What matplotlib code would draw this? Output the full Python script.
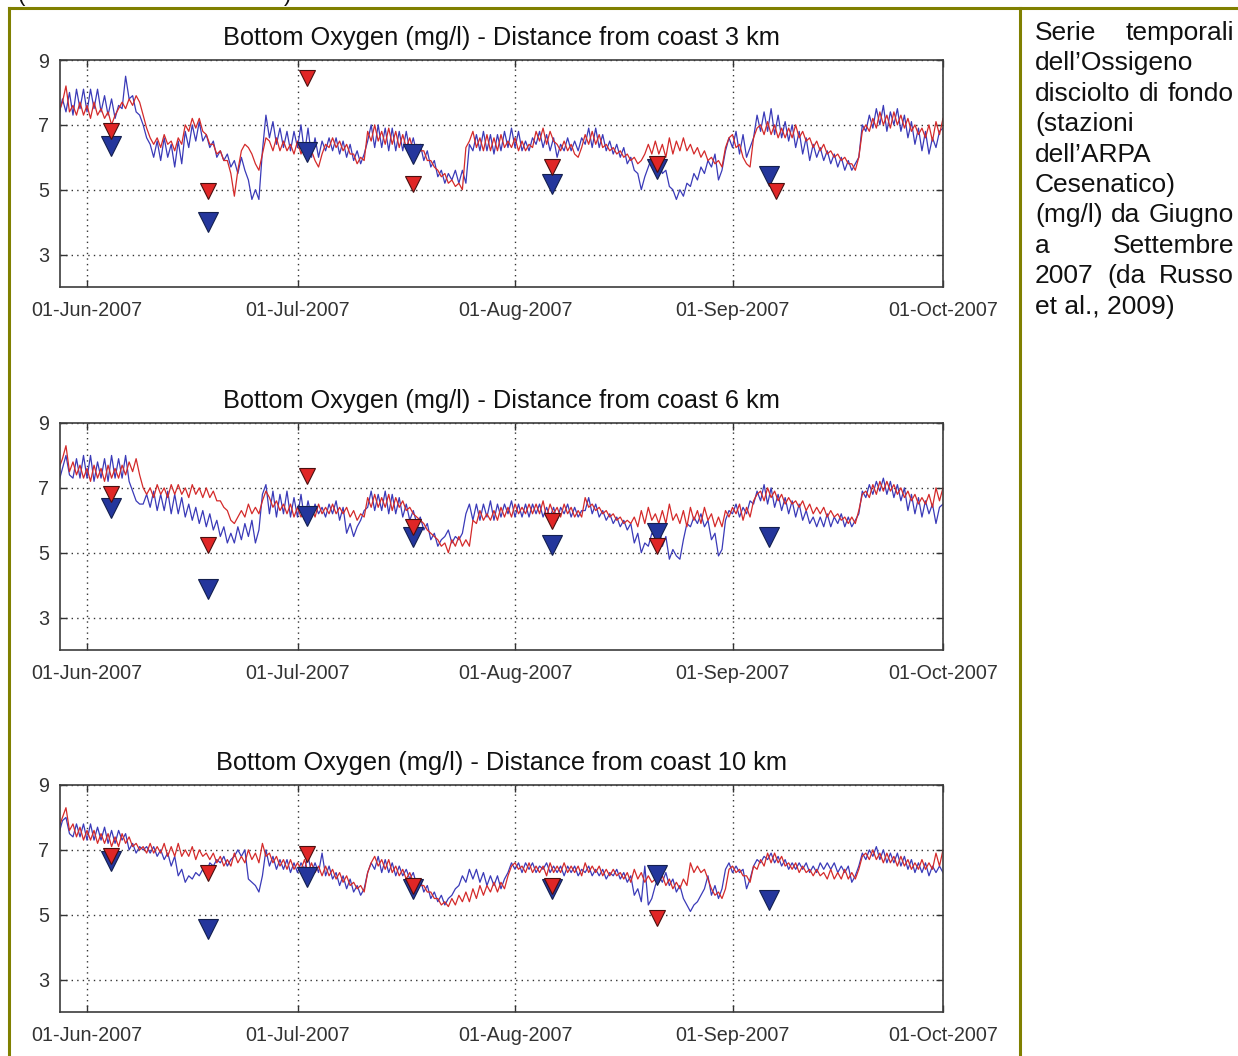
import pandas as pd
import matplotlib
matplotlib.use("Agg")
import matplotlib.pyplot as plt

W, H = 1238, 1056
OLIVE = "#808000"

plt.rcParams["font.family"] = ["Liberation Sans", "DejaVu Sans"]

# ---- data (12-hourly, starting 28 May 2007 00:00) ----
series_start = "2007-05-28"

ox3_red = [
    7.4, 7.7, 8.2, 7.4, 7.6, 7.3, 7.7, 7.3, 7.6, 7.2, 7.7, 7.3, 7.5, 7.2, 7.4, 7.0, 7.3, 7.5, 7.7, 7.5,
    7.8, 7.6, 7.9, 7.7, 7.3, 6.9, 6.6, 6.4, 6.6, 6.3, 6.7, 6.4, 6.5, 6.2, 6.6, 6.4, 7.0, 6.8, 7.2, 6.9,
    7.2, 6.8, 6.7, 6.4, 6.4, 6.1, 6.2, 5.9, 5.9, 5.5, 4.8, 5.6, 6.2, 6.4, 6.3, 6.1, 5.8, 5.6, 6.1, 6.6,
    6.5, 6.2, 6.6, 6.2, 6.5, 6.2, 6.4, 6.1, 6.5, 6.1, 6.4, 6.0, 6.2, 5.9, 5.7, 6.1, 6.4, 6.3, 6.6, 6.3,
    6.5, 6.2, 6.4, 6.1, 6.1, 5.8, 6.0, 5.9, 6.8, 6.5, 7.0, 6.5, 6.8, 6.4, 6.9, 6.4, 6.8, 6.3, 6.7, 6.3,
    6.6, 6.2, 6.4, 6.2, 6.2, 5.9, 5.9, 5.7, 5.6, 5.4, 5.5, 5.2, 5.3, 5.1, 5.2, 5.0, 6.3, 6.5, 6.8, 6.3,
    6.6, 6.2, 6.7, 6.2, 6.6, 6.2, 6.7, 6.3, 6.5, 6.3, 6.6, 6.2, 6.5, 6.2, 6.4, 6.3, 6.8, 6.5, 6.9, 6.4,
    6.8, 6.5, 6.4, 6.2, 6.5, 6.2, 6.4, 6.1, 6.0, 6.3, 6.7, 6.4, 6.8, 6.4, 6.7, 6.3, 6.4, 6.2, 6.3, 6.1,
    6.2, 6.0, 6.1, 5.9, 6.0, 5.8, 5.9, 6.1, 6.4, 6.1, 6.5, 6.1, 6.4, 6.0, 6.6, 6.1, 6.5, 6.2, 6.6, 6.2,
    6.4, 6.1, 6.3, 6.0, 6.2, 5.9, 6.0, 5.8, 5.9, 5.7, 6.3, 6.6, 6.7, 6.3, 6.4, 6.0, 5.8, 5.7, 6.6, 6.9,
    7.0, 6.7, 7.1, 6.7, 7.0, 6.6, 6.9, 6.6, 6.9, 6.6, 7.0, 6.6, 6.8, 6.5, 6.6, 6.3, 6.5, 6.2, 6.4, 6.1,
    6.2, 6.0, 6.1, 5.9, 6.0, 5.8, 5.8, 5.6, 6.0, 6.8, 7.0, 6.8, 7.2, 6.9, 7.4, 7.0, 7.3, 6.9, 7.4, 7.0,
    7.3, 6.9, 7.2, 6.8, 7.0, 6.7, 6.9, 6.6, 7.0, 6.5, 7.1, 6.7, 7.2,
]
ox3_blue = [
    7.3, 7.8, 7.4, 8.0, 7.3, 8.1, 7.5, 8.1, 7.4, 8.1, 7.5, 8.1, 7.4, 7.9, 7.3, 7.8, 7.2, 7.6, 7.5, 8.5,
    7.8, 7.9, 7.4, 7.3, 7.0, 6.6, 6.4, 6.0, 6.5, 5.9, 6.6, 6.0, 6.4, 5.7, 6.5, 5.8, 6.8, 6.3, 7.0, 6.5,
    7.1, 6.5, 6.7, 6.3, 6.5, 6.0, 6.2, 5.9, 6.1, 5.7, 5.9, 5.5, 6.0, 5.6, 5.3, 4.7, 5.0, 4.7, 6.2, 7.3,
    6.6, 7.1, 6.4, 6.9, 6.3, 6.8, 6.2, 6.8, 6.3, 7.0, 6.1, 6.9, 6.0, 6.6, 6.0, 6.5, 6.2, 6.6, 6.2, 6.6,
    6.1, 6.5, 6.0, 6.4, 5.9, 6.2, 5.8, 6.1, 6.5, 7.0, 6.3, 7.0, 6.3, 6.9, 6.2, 6.9, 6.2, 6.8, 6.2, 6.8,
    6.2, 6.6, 6.1, 6.4, 5.9, 6.2, 5.7, 5.9, 5.4, 5.6, 5.2, 5.5, 5.3, 5.6, 5.2, 5.6, 5.2, 6.4, 6.2, 6.7,
    6.2, 6.8, 6.2, 6.7, 6.1, 6.7, 6.2, 6.8, 6.3, 6.9, 6.3, 6.8, 6.2, 6.5, 6.2, 6.6, 6.4, 6.8, 6.3, 6.7,
    6.2, 6.6, 6.0, 6.4, 6.2, 6.6, 6.2, 6.5, 6.2, 6.6, 6.4, 6.9, 6.3, 6.9, 6.3, 6.7, 6.2, 6.5, 6.1, 6.4,
    6.0, 6.3, 5.8, 6.0, 5.6, 5.5, 5.0, 5.4, 5.7, 6.0, 5.6, 5.9, 5.5, 5.6, 5.1, 5.0, 4.7, 5.0, 4.8, 5.2,
    5.1, 5.5, 5.3, 5.7, 5.5, 5.9, 5.7, 6.1, 5.3, 5.6, 6.2, 6.6, 6.3, 6.8, 6.1, 6.7, 6.0, 6.3, 6.6, 7.3,
    6.8, 7.4, 6.8, 7.5, 6.7, 7.3, 6.6, 7.1, 6.5, 7.0, 6.3, 6.8, 6.1, 6.6, 5.9, 6.4, 6.0, 6.3, 5.9, 6.2,
    5.8, 6.1, 5.7, 6.0, 5.6, 5.9, 5.6, 5.8, 6.0, 7.0, 6.8, 7.3, 6.9, 7.5, 7.0, 7.6, 6.8, 7.4, 7.0, 7.5,
    6.8, 7.3, 6.6, 7.1, 6.4, 6.9, 6.2, 6.8, 6.1, 6.6, 6.3, 6.8, 6.9,
]
ox6_red = [
    7.6, 7.9, 8.3, 7.5, 7.8, 7.4, 7.7, 7.3, 7.6, 7.2, 7.7, 7.3, 7.6, 7.2, 7.7, 7.3, 7.6, 7.3, 7.7, 7.4,
    7.8, 7.5, 7.9, 7.4, 7.0, 6.8, 7.0, 6.7, 7.1, 6.8, 7.0, 6.7, 7.1, 6.8, 7.1, 6.8, 7.0, 6.7, 7.1, 6.8,
    7.0, 6.7, 7.0, 6.7, 6.9, 6.6, 6.6, 6.4, 6.3, 6.0, 5.9, 6.1, 6.3, 6.1, 6.5, 6.2, 6.4, 6.2, 6.6, 6.9,
    6.7, 6.4, 6.6, 6.3, 6.5, 6.2, 6.5, 6.1, 6.4, 6.1, 6.3, 6.1, 6.4, 6.1, 6.5, 6.2, 6.4, 6.2, 6.5, 6.2,
    6.4, 6.2, 6.4, 6.1, 6.3, 6.0, 6.2, 6.1, 6.7, 6.4, 6.8, 6.4, 6.7, 6.4, 6.8, 6.3, 6.7, 6.4, 6.6, 6.3,
    6.4, 6.2, 6.1, 6.0, 5.9, 5.7, 5.6, 5.5, 5.4, 5.2, 5.3, 5.0, 5.4, 5.2, 5.5, 5.2, 5.4, 5.2, 6.0, 5.9,
    6.3, 6.0, 6.2, 6.0, 6.3, 6.0, 6.4, 6.1, 6.4, 6.1, 6.5, 6.2, 6.4, 6.2, 6.5, 6.2, 6.5, 6.2, 6.6, 6.1,
    6.5, 6.2, 6.4, 6.1, 6.5, 6.2, 6.4, 6.1, 6.3, 6.1, 6.7, 6.4, 6.5, 6.3, 6.4, 6.2, 6.3, 6.1, 6.2, 6.0,
    6.1, 5.9, 6.0, 5.9, 6.1, 5.8, 6.3, 5.9, 6.4, 6.0, 6.2, 5.9, 6.3, 5.9, 6.5, 6.0, 6.2, 5.9, 6.3, 5.8,
    6.4, 6.0, 6.3, 5.9, 6.4, 6.0, 6.2, 5.8, 6.1, 5.8, 6.3, 6.1, 6.4, 6.2, 6.5, 6.0, 6.4, 6.1, 6.6, 6.8,
    6.9, 6.6, 7.0, 6.7, 6.9, 6.6, 6.8, 6.5, 6.7, 6.5, 6.6, 6.4, 6.6, 6.3, 6.5, 6.2, 6.4, 6.2, 6.4, 6.1,
    6.3, 6.1, 6.2, 6.0, 6.1, 5.9, 6.1, 5.9, 6.3, 6.8, 6.9, 6.7, 7.1, 6.8, 7.2, 6.9, 7.2, 6.9, 7.1, 6.8,
    7.0, 6.7, 6.9, 6.6, 6.8, 6.5, 6.7, 6.5, 6.8, 6.4, 7.0, 6.6, 7.0,
]
ox6_blue = [
    7.2, 7.6, 8.0, 7.4, 7.3, 7.9, 7.3, 8.0, 7.3, 8.0, 7.2, 7.8, 7.3, 7.9, 7.2, 8.0, 7.3, 7.9, 7.3, 8.0,
    7.2, 6.9, 6.6, 6.5, 6.5, 6.8, 6.4, 6.9, 6.3, 6.8, 6.3, 6.9, 6.2, 6.8, 6.2, 6.7, 6.1, 6.5, 6.0, 6.4,
    5.9, 6.3, 5.8, 6.2, 5.7, 6.0, 5.5, 5.8, 5.3, 5.6, 5.3, 5.8, 5.4, 5.9, 5.5, 6.0, 5.3, 5.7, 6.8, 7.1,
    6.2, 6.9, 6.1, 6.8, 6.2, 6.9, 6.1, 6.7, 6.1, 6.8, 6.0, 6.6, 6.1, 6.5, 6.2, 6.4, 6.1, 6.5, 6.2, 6.6,
    6.0, 6.4, 5.6, 5.9, 5.5, 5.8, 6.0, 6.3, 6.4, 6.9, 6.3, 6.8, 6.3, 6.9, 6.2, 6.8, 6.2, 6.7, 6.1, 6.5,
    6.0, 6.3, 5.9, 6.1, 5.7, 5.9, 5.4, 5.6, 5.2, 5.4, 5.5, 5.7, 5.3, 5.5, 5.4, 5.6, 6.2, 6.5, 6.0, 6.5,
    6.0, 6.5, 6.1, 6.6, 6.0, 6.5, 6.1, 6.5, 6.2, 6.6, 6.1, 6.5, 6.1, 6.5, 6.1, 6.5, 6.2, 6.5, 6.1, 6.4,
    6.1, 6.4, 6.0, 6.4, 6.2, 6.5, 6.1, 6.4, 6.1, 6.3, 6.3, 6.7, 6.2, 6.5, 6.1, 6.3, 6.0, 6.2, 5.9, 6.1,
    5.8, 6.0, 5.7, 5.9, 5.3, 5.6, 5.0, 5.3, 5.2, 5.6, 5.5, 5.9, 5.2, 5.5, 4.8, 5.1, 4.9, 4.8, 5.4, 5.9,
    5.8, 6.1, 5.9, 6.2, 5.8, 6.0, 5.4, 5.6, 4.9, 5.1, 6.0, 6.3, 6.2, 6.5, 6.1, 6.4, 6.2, 6.6, 6.5, 6.9,
    6.6, 7.1, 6.5, 7.0, 6.4, 6.8, 6.3, 6.7, 6.2, 6.6, 6.1, 6.5, 6.0, 6.3, 5.9, 6.1, 5.8, 6.1, 5.8, 6.2,
    5.8, 6.1, 5.9, 6.2, 5.8, 6.1, 5.8, 6.0, 6.2, 6.9, 6.7, 7.1, 6.8, 7.2, 6.9, 7.3, 6.8, 7.2, 6.7, 7.1,
    6.6, 7.0, 6.3, 6.8, 6.2, 6.7, 6.1, 6.6, 6.2, 6.5, 5.9, 6.4, 6.5,
]
ox10_red = [
    7.7, 8.0, 8.3, 7.6, 7.8, 7.4, 7.7, 7.3, 7.6, 7.3, 7.6, 7.2, 7.5, 7.2, 7.5, 7.1, 7.4, 7.1, 7.5, 7.2,
    7.4, 7.1, 7.2, 7.0, 7.1, 6.9, 7.2, 6.9, 7.1, 6.9, 7.2, 6.8, 7.1, 6.8, 7.2, 6.8, 7.0, 6.8, 7.1, 6.7,
    7.0, 6.8, 6.9, 6.7, 6.9, 6.6, 6.8, 6.5, 6.7, 6.5, 6.9, 6.6, 6.8, 6.6, 7.0, 6.7, 6.9, 6.6, 7.2, 6.8,
    6.9, 6.6, 6.8, 6.5, 6.7, 6.4, 6.7, 6.4, 6.6, 6.4, 6.7, 6.3, 6.6, 6.3, 6.5, 6.2, 6.5, 6.2, 6.4, 6.1,
    6.3, 6.0, 6.2, 5.9, 6.0, 5.8, 5.9, 5.7, 6.3, 6.6, 6.8, 6.5, 6.7, 6.4, 6.7, 6.3, 6.5, 6.2, 6.4, 6.1,
    6.3, 6.0, 6.1, 5.9, 5.9, 5.7, 5.7, 5.5, 5.5, 5.3, 5.4, 5.25, 5.5, 5.3, 5.6, 5.4, 5.7, 5.4, 5.8, 5.5,
    5.9, 5.6, 5.9, 5.7, 6.0, 5.7, 6.0, 5.8, 6.2, 6.5, 6.6, 6.4, 6.5, 6.3, 6.6, 6.3, 6.5, 6.3, 6.5, 6.2,
    6.6, 6.3, 6.5, 6.3, 6.6, 6.3, 6.5, 6.3, 6.5, 6.2, 6.6, 6.3, 6.5, 6.3, 6.5, 6.2, 6.4, 6.2, 6.4, 6.2,
    6.3, 6.1, 6.3, 6.0, 6.4, 6.1, 6.3, 6.0, 6.2, 6.0, 6.1, 6.0, 6.2, 5.9, 6.1, 5.8, 6.0, 5.8, 6.1, 5.9,
    6.6, 6.3, 6.5, 6.3, 6.4, 6.1, 5.8, 5.6, 5.7, 5.5, 5.8, 6.4, 6.5, 6.3, 6.4, 6.2, 6.2, 6.0, 6.5, 6.4,
    6.7, 6.5, 6.9, 6.6, 6.9, 6.6, 6.8, 6.5, 6.6, 6.4, 6.6, 6.3, 6.5, 6.3, 6.4, 6.2, 6.4, 6.2, 6.3, 6.1,
    6.4, 6.1, 6.3, 6.1, 6.4, 6.1, 6.3, 6.1, 6.4, 6.8, 6.9, 6.7, 7.0, 6.7, 6.9, 6.6, 6.9, 6.6, 6.8, 6.5,
    6.8, 6.5, 6.7, 6.4, 6.6, 6.4, 6.7, 6.4, 6.6, 6.4, 6.9, 6.5, 7.0,
]
ox10_blue = [
    7.5, 7.9, 8.0, 7.5, 7.4, 7.8, 7.4, 7.8, 7.3, 7.8, 7.3, 7.7, 7.3, 7.7, 7.2, 7.6, 7.2, 7.6, 7.3, 7.5,
    7.0, 7.2, 6.9, 7.1, 7.0, 7.1, 6.9, 7.1, 6.8, 7.0, 6.7, 6.9, 6.5, 6.8, 6.2, 6.4, 6.0, 6.2, 6.1, 6.3,
    6.2, 6.4, 6.3, 6.6, 6.5, 6.7, 6.6, 6.8, 6.5, 6.7, 6.8, 7.0, 6.8, 7.0, 6.1, 6.0, 5.9, 5.7, 6.2, 7.0,
    6.5, 6.8, 6.4, 6.7, 6.4, 6.7, 6.3, 6.6, 6.3, 6.6, 6.4, 6.8, 6.3, 6.6, 6.3, 6.9, 6.2, 6.5, 6.1, 6.3,
    5.9, 6.2, 5.8, 6.1, 5.7, 5.9, 5.6, 5.8, 6.3, 6.6, 6.4, 6.8, 6.3, 6.7, 6.3, 6.6, 6.2, 6.5, 6.2, 6.4,
    6.1, 6.3, 5.9, 6.1, 5.7, 5.9, 5.5, 5.7, 5.4, 5.6, 5.3, 5.5, 5.6, 5.8, 5.9, 6.2, 6.0, 6.4, 6.1, 6.4,
    6.0, 6.3, 5.9, 6.2, 5.9, 6.2, 5.8, 6.1, 6.3, 6.6, 6.4, 6.6, 6.3, 6.6, 6.4, 6.6, 6.3, 6.5, 6.4, 6.6,
    6.3, 6.5, 6.3, 6.5, 6.2, 6.5, 6.3, 6.5, 6.2, 6.4, 6.3, 6.5, 6.2, 6.4, 6.2, 6.4, 6.1, 6.3, 6.2, 6.4,
    6.1, 6.3, 6.0, 6.2, 5.6, 5.8, 5.4, 6.5, 5.3, 5.5, 5.9, 6.2, 6.0, 6.3, 5.9, 6.1, 5.7, 5.9, 5.5, 5.3,
    5.1, 5.3, 5.4, 5.6, 5.8, 6.2, 5.6, 5.9, 5.5, 5.8, 6.4, 6.6, 6.3, 6.5, 6.3, 6.4, 5.8, 6.1, 6.5, 6.7,
    6.6, 6.8, 6.7, 6.9, 6.6, 6.8, 6.5, 6.7, 6.4, 6.6, 6.4, 6.6, 6.4, 6.6, 6.3, 6.5, 6.3, 6.6, 6.4, 6.6,
    6.4, 6.6, 6.3, 6.5, 6.3, 6.5, 6.0, 6.2, 6.5, 6.9, 6.7, 7.0, 6.8, 7.1, 6.7, 7.0, 6.6, 6.9, 6.6, 6.9,
    6.5, 6.8, 6.4, 6.7, 6.3, 6.6, 6.3, 6.6, 6.2, 6.5, 6.3, 6.5, 6.3,
]

# ARPA station measurements (triangles)
blue_dates = ["2007-06-04 10:00", "2007-06-18 07:00", "2007-07-02 07:00", "2007-07-17 10:00",
              "2007-08-06 07:00", "2007-08-21 07:00", "2007-09-06 05:00"]
red_dates_3km = blue_dates[:6] + ["2007-09-07 05:00"]
red_dates = blue_dates[:6]

st3_red = [6.82, 4.97, 8.46, 5.18, 5.69, 5.78, 4.97]
st3_blue = [6.35, 4.0, 6.15, 6.1, 5.18, 5.65, 5.43]
st6_red = [6.8, 5.23, 7.37, 5.78, 5.98, 5.2]
st6_blue = [6.37, 3.88, 6.12, 5.5, 5.23, 5.6, 5.5]
st10_red = [6.8, 6.28, 6.88, 5.9, 5.9, 4.9]
st10_blue = [6.67, 4.57, 6.16, 5.8, 5.8, 6.21, 5.44]

distances = ["3", "6", "10"]
month_ticks = ["2007-06-01", "2007-07-01", "2007-08-01", "2007-09-01", "2007-10-01"]
month_labels = ["01-Jun-2007", "01-Jul-2007", "01-Aug-2007", "01-Sep-2007", "01-Oct-2007"]
y_ticks = [3, 5, 7, 9]

note_lines = ["Serie temporali", "dell\u2019Ossigeno", "disciolto di fondo", "(stazioni",
              "dell\u2019ARPA", "Cesenatico)", "(mg/l) da Giugno", "a Settembre",
              "2007 (da Russo", "et al., 2009)"]
note_justify = [True, False, True, False, False, False, True, True, True, False]

panels = [
    (ox3_red, ox3_blue, red_dates_3km, st3_red, st3_blue),
    (ox6_red, ox6_blue, red_dates, st6_red, st6_blue),
    (ox10_red, ox10_blue, red_dates, st10_red, st10_blue),
]
axes_tops = [60, 423, 785]   # pixel rows of the axes top edges

fig = plt.figure(figsize=(W / 100, H / 100), dpi=100)

x_left = pd.Timestamp("2007-06-01") - pd.Timedelta(days=3.85)
x_right = pd.Timestamp("2007-10-01")

for (red, blue, rdates, rvals, bvals), dist, top in zip(panels, distances, axes_tops):
    ax = fig.add_axes([60 / W, 1 - (top + 227) / H, 883 / W, 227 / H])
    t = pd.date_range(series_start, periods=len(red), freq="12h")
    ax.plot(t, blue, color="#3a3ab8", lw=0.9)
    ax.plot(t, red, color="#d42a2a", lw=0.9)
    ax.plot(pd.to_datetime(blue_dates), bvals, "v", ms=14, mfc="#24369c", mec="#14204f", mew=0.8)
    ax.plot(pd.to_datetime(rdates), rvals, "v", ms=11, mfc="#e02626", mec="#4a1010", mew=0.8)

    ax.set_xlim(x_left, x_right)
    ax.set_ylim(2, 9)
    ax.set_xticks(pd.to_datetime(month_ticks))
    ax.set_xticklabels(month_labels)
    ax.set_yticks(y_ticks)
    ax.tick_params(direction="in", length=5, top=True, right=True, labelsize=14.2,
                   labelcolor="#333333", color="#333333", width=1)
    ax.tick_params(axis="x", pad=10)
    ax.tick_params(axis="y", pad=8)
    ax.grid(True, linestyle=(0, (1, 3)), color="#333333", lw=1)
    for s in ax.spines.values():
        s.set_color("#3c3c3c")
        s.set_linewidth(1.2)
    ax.set_title(f"Bottom Oxygen (mg/l) - Distance from coast {dist} km",
                 fontsize=18.3, color="#111111", pad=11)

# table frame lines (olive)
fig.add_artist(plt.Line2D([9 / W, 1], [1 - 8 / H, 1 - 8 / H], color=OLIVE, lw=2.2))
fig.add_artist(plt.Line2D([9 / W, 9 / W], [0, 1 - 8 / H], color=OLIVE, lw=2.2))
fig.add_artist(plt.Line2D([1020 / W, 1020 / W], [0, 1 - 8 / H], color=OLIVE, lw=2.2))

# caption of the previous table row, cut by the top edge as in the source
fig.text(18 / W, 1 - 1 / H, "(", fontsize=16, va="baseline", color="#111111")
fig.text(284 / W, 1 - 1 / H, ")", fontsize=16, va="baseline", color="#111111")

# justified caption in the right-hand cell
x0, x1 = 1035, 1234
fig.canvas.draw()
renderer = fig.canvas.get_renderer()
for k, (line, just) in enumerate(zip(note_lines, note_justify)):
    y = 1 - (40 + 30.4 * k) / H
    words = line.split(" ")
    if not just or len(words) == 1:
        fig.text(x0 / W, y, line, fontsize=19, va="baseline", color="#111111")
        continue
    objs = [fig.text(x0 / W, y, w, fontsize=19, va="baseline", color="#111111") for w in words]
    widths = [o.get_window_extent(renderer).width for o in objs]
    gap = ((x1 - x0) - sum(widths)) / (len(words) - 1)
    pos = x0
    for o, w in zip(objs, widths):
        o.set_x(pos / W)
        pos += w + gap

fig.savefig("out.png", dpi=100)
